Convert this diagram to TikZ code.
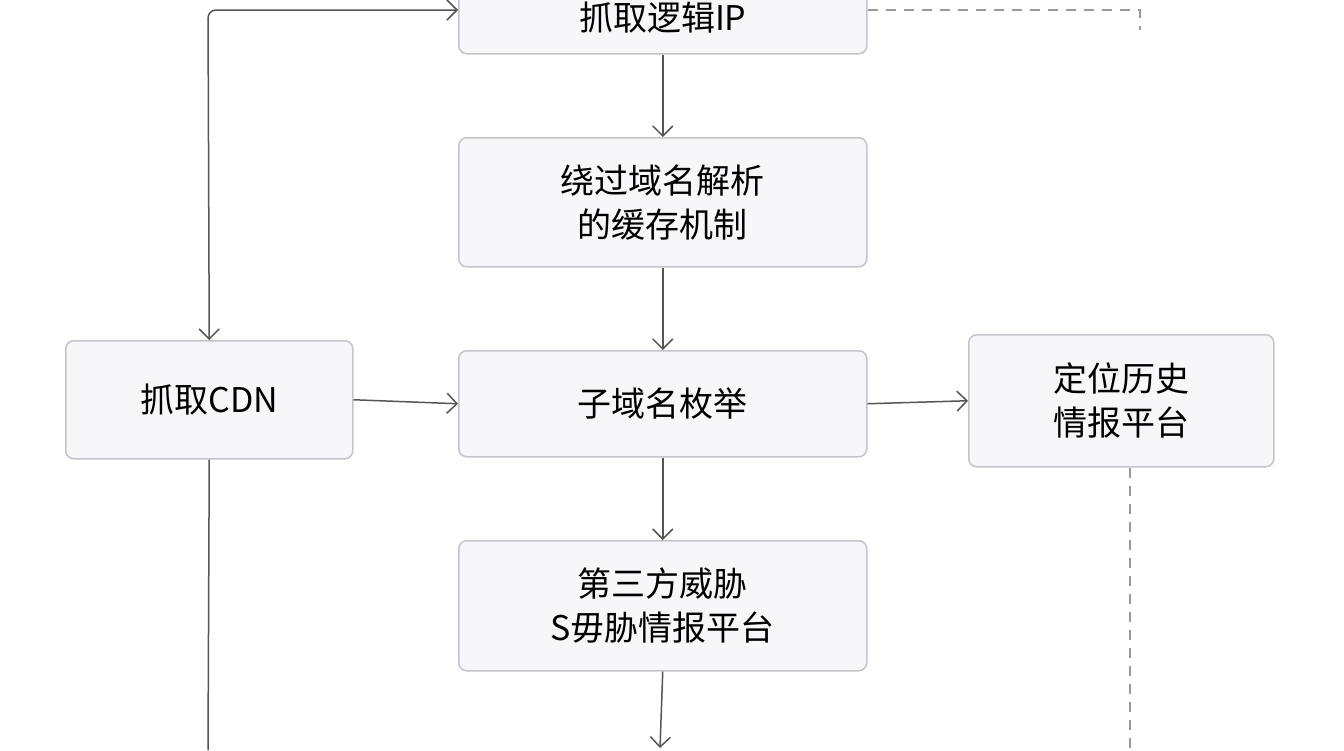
\documentclass[tikz,border=0pt]{standalone}
\usepackage{fontspec}
\setmainfont{Noto Sans CJK SC}
\usetikzlibrary{arrows.meta}
\definecolor{bx}{HTML}{F7F7FA}
\definecolor{bd}{HTML}{C4C4CC}
\definecolor{ln}{HTML}{555555}
\begin{document}
\begin{tikzpicture}[x=1pt,y=-1pt,
  box/.style={draw=bd,line width=1.5pt,fill=bx,rounded corners=8pt,font=\fontsize{34}{44}\selectfont,align=center,anchor=north west,inner sep=0pt},
  ar/.style={draw=ln,line width=1.5pt,-{Straight Barb[length=10pt,width=20pt]}},
  dl/.style={draw=gray!80,line width=1.2pt,dash pattern=on 10pt off 8pt}]
\useasboundingbox (0,0) rectangle (1344,750);
\fill[white] (0,0) rectangle (1344,750);
\node[box,minimum width=408pt,minimum height=73pt] (a) at (458,-20) {\raisebox{-8pt}{抓取逻辑IP}};
\node[box,minimum width=408pt,minimum height=129pt] (b) at (458,137) {绕过域名解析\\的缓存机制};
\node[box,minimum width=408pt,minimum height=106pt] (c) at (458,350) {子域名枚举};
\node[box,minimum width=408pt,minimum height=130pt] (d) at (458,540) {第三方威胁\\S毋胁情报平台};
\node[box,minimum width=287pt,minimum height=118pt] (e) at (65,340) {抓取CDN};
\node[box,minimum width=305pt,minimum height=132pt] (f) at (968,334) {定位历史\\情报平台};
\coordinate (dend) at (660,748);
\coordinate (ctop) at (208,10);
\coordinate (cbot) at (208,750);
\coordinate (d1) at (1140,10);
\coordinate (d2) at (1140,30);
\coordinate (d3) at (1130,750);
\draw[ar] (a.south) -- (b.north);
\draw[ar] (b.south) -- (c.north);
\draw[ar] (c.south) -- (d.north);
\draw[ar] (d.south) -- (dend);
\draw[ar] (e.east) -- (c.west);
\draw[ar] (c.east) -- (f.west);
\draw[draw=ln,line width=1.5pt,{Straight Barb[length=10pt,width=20pt]}-{Straight Barb[length=10pt,width=20pt]},rounded corners=8pt] (e.north) -- (ctop) -- (a.west|-ctop);
\draw[draw=ln,line width=1.5pt] (e.south) -- (cbot);
\draw[dl] (a.east|-d1) -- (d1) -- (d2);
\draw[dl] (f.south-|d3) -- (d3);
\end{tikzpicture}
\end{document}
